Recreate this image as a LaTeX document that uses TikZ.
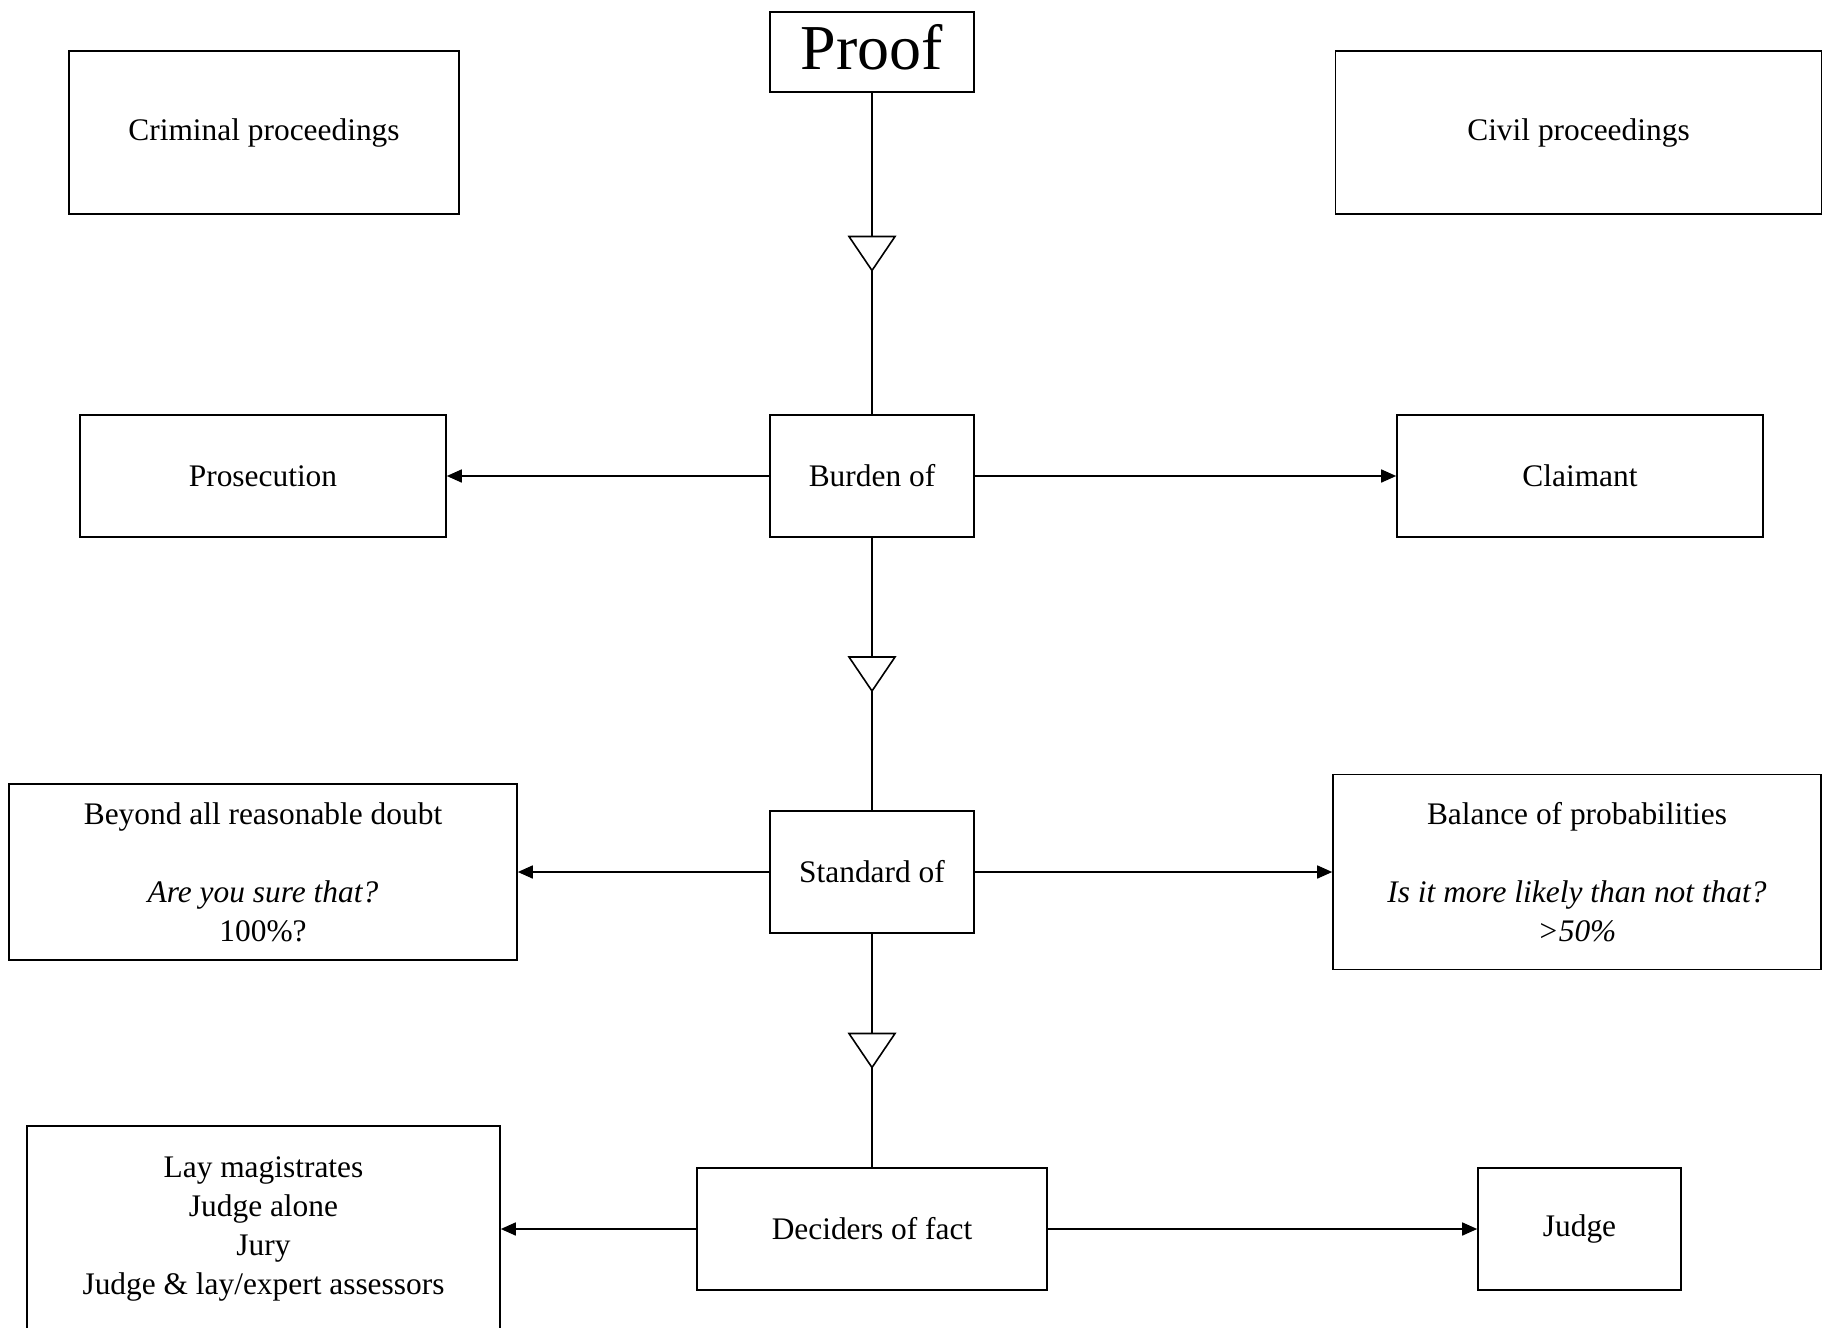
\documentclass[tikz,border=0pt]{standalone}
\usepackage{fontspec}
\setmainfont{Liberation Serif}
\usetikzlibrary{arrows.meta,calc}
\begin{document}
\begin{tikzpicture}[x=0.5pt,y=-0.5pt,
  box/.style={draw, line width=0.8pt, rectangle, inner sep=0pt, align=center,
              font=\fontsize{15.7}{19.5}\selectfont},
  link/.style={line width=0.8pt},
  arr/.style={line width=0.8pt, -{Triangle[length=7.5pt,width=6.5pt]}},
  marker/.style={draw, line width=0.8pt, fill=white, line join=miter}]
\useasboundingbox (0,0) rectangle (1822,1328);

% top title
\node[box, minimum width=102pt, minimum height=40pt] (proof) at (872,52) {};
\node[font=\fontsize{32}{36}\selectfont, inner sep=0pt] (prooftext) at (872,47) {Proof};

% column headings
\node[box, minimum width=195pt, minimum height=81.5pt] (crim) at (264,132.5) {Criminal proceedings};
\node[box, minimum width=243pt, minimum height=81.5pt] (civil) at (1578.5,132.5) {Civil proceedings};

% burden
\node[box, minimum width=102pt, minimum height=61pt] (burden) at (872,476) {Burden of};
\node[box, minimum width=183pt, minimum height=61pt] (pros) at (263,476) {Prosecution};
\node[box, minimum width=183pt, minimum height=61pt] (claim) at (1580,476) {Claimant};

% standard
\node[box, minimum width=102pt, minimum height=61pt] (standard) at (872,872) {Standard of};
\node[box, minimum width=254pt, minimum height=88pt] (beyond) at (263,872)
  {Beyond all reasonable doubt\\[19.5pt]\textit{Are you sure that?}\\100\%?};
\node[box, minimum width=244pt, minimum height=97.5pt] (balance) at (1577,872)
  {Balance of probabilities\\[19.5pt]\textit{Is it more likely than not that?}\\\textit{>50\%}};

% deciders of fact
\node[box, minimum width=175pt, minimum height=61pt] (deciders) at (872,1229) {Deciders of fact};
\node[box, minimum width=236.5pt, minimum height=103pt] (lay) at (263.5,1229)
  {Lay magistrates\\Judge alone\\Jury\\Judge \& lay/expert assessors};
\node[box, minimum width=101.5pt, minimum height=61pt] (judge) at (1579.5,1229) {Judge};

% vertical spine
\draw[link] (proof) -- (burden);
\draw[link] (burden) -- (standard);
\draw[link] (standard) -- (deciders);

\coordinate (m1) at ($(proof.south)!0.5!(burden.north)$);
\coordinate (m2) at ($(burden.south)!0.5!(standard.north)$);
\coordinate (m3) at ($(standard.south)!0.5!(deciders.north)$);
\foreach \m in {m1,m2,m3}
  \draw[marker] ($(\m)+(-23,-17)$) -- ($(\m)+(23,-17)$) -- ($(\m)+(0,17)$) -- cycle;

% branches
\draw[arr] (burden.west) -- (pros.east);
\draw[arr] (burden.east) -- (claim.west);
\draw[arr] (standard.west) -- (beyond.east);
\draw[arr] (standard.east) -- (balance.west);
\draw[arr] (deciders.west) -- (lay.east);
\draw[arr] (deciders.east) -- (judge.west);
\end{tikzpicture}
\end{document}
